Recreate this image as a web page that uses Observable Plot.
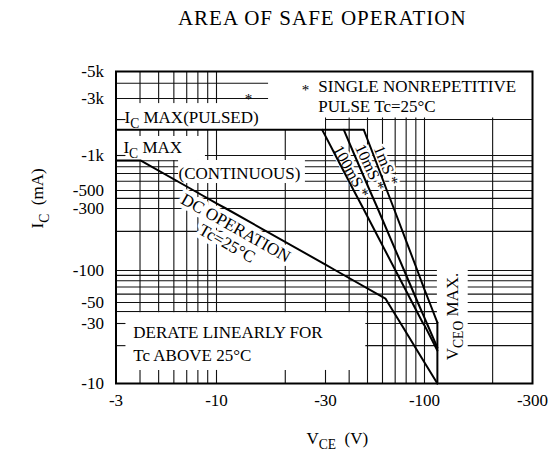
<!DOCTYPE html>
<html><head><meta charset="utf-8">
<script src="https://cdn.jsdelivr.net/npm/d3@7"></script>
<script src="https://cdn.jsdelivr.net/npm/@observablehq/plot@0.6"></script>
<style>
html,body{margin:0;padding:0;background:#fff;}
#chart{width:554px;height:458px;}
</style></head><body><div id="chart"></div>
<script>
// ---- tick labels (|V_CE| in V, |I_C| in mA; shown with minus sign) ----
const xTicks = [3, 10, 30, 100, 300];
const xTickLabels = ["-3", "-10", "-30", "-100", "-300"];
const yTicks = [10, 30, 50, 100, 300, 500, 1000, 3000, 5000];
const yTickLabels = ["-10", "-30", "-50", "-100", "-300", "-500", "-1k", "-3k", "-5k"];
// ---- grid values ----
const xGrid = [4, 5, 6, 7, 8, 9, 10, 20, 30, 40, 50, 60, 70, 80, 90, 100, 200];
const yGrid = [20, 30, 40, 50, 60, 70, 80, 90, 100, 200, 300, 400, 500, 600, 700, 800, 900, 1000, 2000, 3000, 4000];

// ---- limit curves ----
const pulsedV = [3, 47.8];
const pulsedI = [1640, 1640];
const dcV = [3, 4.02, 7.62, 10, 11, 30, 34, 62.2, 64, 74.9, 100, 114];
const dcI = [906, 906, 500, 348, 300, 111, 100, 54.5, 50, 30, 14.7, 10];
const p100V = [29, 30, 33.9, 42.3, 47.5, 70.3, 86.1, 98.3, 100, 114];
const p100I = [1640, 1453, 1000, 500, 300, 100, 50, 30, 29, 18.3];
const p10V = [37.5, 42.8, 51.4, 56.6, 78.1, 92.2, 100, 102.5, 114];
const p10I = [1640, 1000, 500, 300, 100, 50, 34.4, 30, 19.3];
const p1V = [47.8, 53.9, 63.3, 68.9, 91.7, 100, 105.3, 114];
const p1I = [1640, 1000, 500, 300, 100, 66, 50, 30.7];
const vceoV = [114, 114];
const vceoI = [30.7, 10];

const seriesList = [
  ["pulsed", pulsedV, pulsedI], ["dc", dcV, dcI], ["100ms", p100V, p100I],
  ["10ms", p10V, p10I], ["1ms", p1V, p1I], ["vceo", vceoV, vceoI]
];
const curves = seriesList.flatMap(([s, V, I]) => V.map((v, k) => ({series: s, v, i: I[k]})));

// ---- blank (white) label areas, in data units ----
const blanks = [
  {x1: 3, x2: 30, y1: 1640, y2: 2720},
  {x1: 16.9, x2: 300, y1: 2060, y2: 5000},
  {x1: 3, x2: 8.76, y1: 906, y2: 1640},
  {x1: 6.35, x2: 24.5, y1: 574, y2: 906},
  {x1: 3, x2: 49, y1: 10, y2: 39},
  {x1: 114, x2: 156, y1: 10, y2: 109}
];
const bottomTicks = [4, 5, 6, 7, 8, 9, 10, 20, 30, 40];
const topTicks = [4, 5, 6, 7, 8];
const leftTicks = [20, 30, 1000, 2000];

// ---- annotation texts ----
const startLabels = [
  {t: "I_{C} MAX(PULSED)", v: 3.32, i: 2080},
  {t: "I_{C} MAX", v: 3.28, i: 1167},
  {t: "(CONTINUOUS)", v: 6.35, i: 700},
  {t: "SINGLE NONREPETITIVE", v: 27.9, i: 3766},
  {t: "PULSE Tc=25°C", v: 27.9, i: 2571},
  {t: "DERATE LINEARLY FOR", v: 3.69, i: 25.2},
  {t: "Tc ABOVE 25°C", v: 3.69, i: 16.6}
];
const stars = [{v: 13.8, i: 2944}, {v: 24.5, i: 3490}];
const pulseLabels = [
  {t: "100mS *", v: 40.9, i: 728, r: 61},
  {t: "10mS *", v: 51.4, i: 789, r: 65},
  {t: "1mS *", v: 62.6, i: 820, r: 68}
];

const FONT = "'Liberation Serif', 'Times New Roman', serif";

const plot = Plot.plot({
  width: 554, height: 458,
  marginLeft: 115.5, marginRight: 22, marginTop: 71, marginBottom: 75,
  style: {fontFamily: FONT, fontSize: "17px", color: "#000", background: "#fff"},
  x: {type: "log", domain: [3, 10, 30, 100, 300], range: [115.5, 216, 325, 424, 532], axis: null},
  y: {type: "log", domain: [10, 30, 50, 100, 300, 500, 1000, 3000, 5000],
      range: [383, 323, 302, 270, 208, 190, 155, 98, 71], axis: null},
  marks: [
    Plot.ruleX(xGrid, {stroke: "#111", strokeWidth: 1.1}),
    Plot.ruleY(yGrid, {stroke: "#111", strokeWidth: 1.1}),
    Plot.rect(blanks, {x1: "x1", x2: "x2", y1: "y1", y2: "y2", fill: "white"}),
    Plot.ruleX(bottomTicks, {x: d => d, y1: 10, y2: 12.7, stroke: "#111", strokeWidth: 1.1}),
    Plot.ruleX(topTicks, {x: d => d, y1: 1640, y2: 1442, stroke: "#111", strokeWidth: 1.1}),
    Plot.ruleY(leftTicks, {y: d => d, x1: 3, x2: 3.38, stroke: "#111", strokeWidth: 1.1}),
    // haloed labels first so the limit lines stay on top
    Plot.text(["DC OPERATION\nTc=25°C"], {x: () => 11.63, y: () => 186, text: d => d, rotate: 29.4,
      fontSize: 17, lineHeight: 1.05, fill: "#000", stroke: "white", strokeWidth: 8}),
    Plot.text(pulseLabels, {x: "v", y: "i", text: "t", rotate: "r", fontSize: 16,
      fill: "#000", stroke: "white", strokeWidth: 5}),
    Plot.line(curves, {x: "v", y: "i", z: "series", stroke: "#000", strokeWidth: 2, curve: "linear"}),
    Plot.frame({stroke: "#000", strokeWidth: 2}),
    // tick labels
    Plot.text(xTicks, {x: d => d, text: (d, k) => xTickLabels[k], frameAnchor: "bottom", lineAnchor: "middle", dy: 17, fontSize: 17, fill: "#000"}),
    Plot.text(yTicks, {y: d => d, text: (d, k) => yTickLabels[k], frameAnchor: "left", textAnchor: "end", lineAnchor: "middle", dx: -12, fontSize: 17, fill: "#000"}),
    Plot.text(startLabels, {x: "v", y: "i", text: "t", textAnchor: "start", fontSize: 17, fill: "#000"}),
    Plot.text(stars, {x: "v", y: "i", text: d => "*", fontSize: 15, fill: "#000"}),
    Plot.text(["V_{CEO} MAX."], {x: () => 132.9, y: () => 35.6, text: d => d, rotate: -90, fontSize: 17, fill: "#000"}),
    Plot.text(["AREA OF SAFE OPERATION"], {frameAnchor: "top", lineAnchor: "middle", dx: -2, dy: -53, fontSize: 21, fill: "#000"}),
    Plot.text(["I_{C}  (mA)"], {frameAnchor: "left", lineAnchor: "middle", rotate: -90, dx: -78, dy: 1, fontSize: 17, fill: "#000"}),
    Plot.text(["V_{CE}  (V)"], {frameAnchor: "bottom", lineAnchor: "middle", dx: 13, dy: 55, fontSize: 17, fill: "#000"})
  ]
});
document.getElementById("chart").appendChild(plot);

// title letter spacing
plot.querySelectorAll("text").forEach(t => {
  if (t.textContent === "AREA OF SAFE OPERATION") t.setAttribute("letter-spacing", "1");
});

// subscript post-processing: "_{...}" -> lowered smaller tspan
plot.querySelectorAll("text").forEach(t => {
  if (t.querySelector("tspan")) return;
  const s = t.textContent;
  if (!s.includes("_{")) return;
  const fs = parseFloat(getComputedStyle(t).fontSize) || 17;
  t.textContent = "";
  let shifted = false;
  for (const p of s.split(/(_\{[^}]*\})/)) {
    if (!p) continue;
    const ts = document.createElementNS("http://www.w3.org/2000/svg", "tspan");
    if (p.startsWith("_{")) {
      ts.textContent = p.slice(2, -1);
      ts.setAttribute("font-size", (fs * 0.8).toFixed(1));
      ts.setAttribute("dy", (fs * 0.3).toFixed(1));
      shifted = true;
    } else {
      ts.textContent = p;
      if (shifted) { ts.setAttribute("dy", (-fs * 0.3).toFixed(1)); shifted = false; }
    }
    t.appendChild(ts);
  }
});
</script>
</body></html>
